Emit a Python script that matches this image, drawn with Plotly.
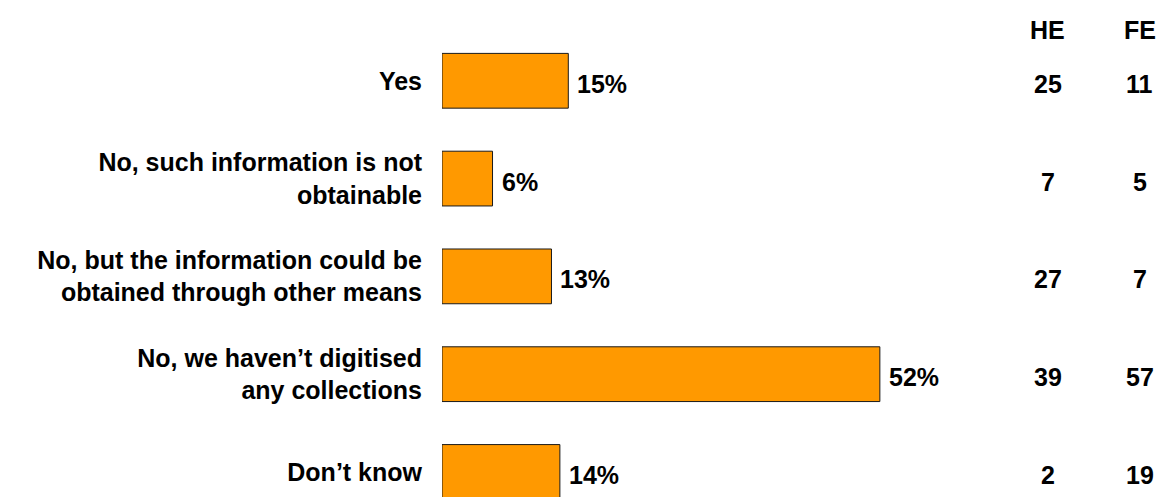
import plotly.graph_objects as go

# Survey answers (top to bottom) with overall share and HE / FE counts
categories = [
    "Yes",
    "No, such information is not<br>obtainable",
    "No, but the information could be<br>obtained through other means",
    "No, we haven\u2019t digitised<br>any collections",
    "Don\u2019t know",
]
percent = [15, 6, 13, 52, 14]
he_counts = [25, 7, 27, 39, 2]
fe_counts = [11, 5, 7, 57, 19]
column_headers = ["HE", "FE"]

FONT = "Liberation Sans, Arial, sans-serif"
TEXT_SIZE = 25
BAR_COLOR = "#FF9900"

fig = go.Figure(
    go.Bar(
        x=percent,
        y=categories,
        orientation="h",
        marker=dict(color=BAR_COLOR, line=dict(color="#1a1a1a", width=1)),
        hoverinfo="skip",
    )
)

annotations = []
# percentage labels just right of each bar
for cat, val in zip(categories, percent):
    annotations.append(dict(
        x=val, y=cat, xref="x", yref="y", text=f"{val}%",
        xanchor="left", yanchor="middle", xshift=7, yshift=-3, showarrow=False,
        font=dict(family=FONT, size=TEXT_SIZE, color="black", weight="bold"),
    ))

# HE / FE count columns on the right
col_x = [0.845, 0.9735]
for hx, head in zip(col_x, column_headers):
    annotations.append(dict(
        x=hx, y=0.94, xref="paper", yref="paper", text=head,
        xanchor="center", yanchor="middle", showarrow=False,
        font=dict(family=FONT, size=TEXT_SIZE, color="black", weight="bold"),
    ))
for cat, he, fe in zip(categories, he_counts, fe_counts):
    for hx, val in zip(col_x, (he, fe)):
        annotations.append(dict(
            x=hx, y=cat, xref="paper", yref="y", text=str(val),
            xanchor="center", yanchor="middle", yshift=-3, showarrow=False,
            font=dict(family=FONT, size=TEXT_SIZE, color="black", weight="bold"),
        ))

fig.update_layout(
    width=1159,
    height=497,
    margin=dict(l=442, r=0, t=0, b=0),
    paper_bgcolor="white",
    plot_bgcolor="white",
    bargap=0.44,
    showlegend=False,
    annotations=annotations,
    xaxis=dict(visible=False, range=[0, 85.15], fixedrange=True),
    yaxis=dict(
        type="category",
        range=[4.256, -0.826],
        showgrid=False,
        zeroline=False,
        showline=False,
        ticks="",
        automargin=False,
        ticklabelstandoff=19,
        tickfont=dict(family=FONT, size=TEXT_SIZE, color="black", weight="bold"),
        fixedrange=True,
    ),
)

fig.write_html("out.html")
